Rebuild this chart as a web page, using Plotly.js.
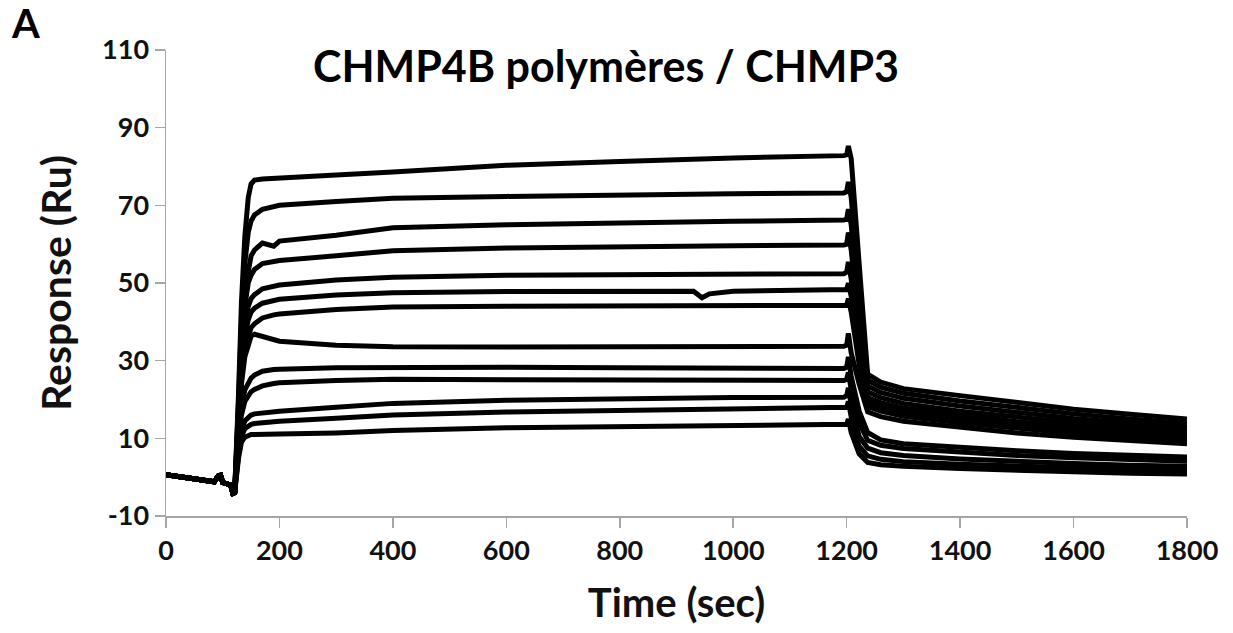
<!DOCTYPE html>
<html>
<head>
<meta charset="utf-8">
<script src="https://cdn.plot.ly/plotly-3.0.1.min.js"></script>
<style>html,body{margin:0;padding:0;background:#fff;}#chart{width:1233px;height:633px;}</style>
</head>
<body>
<div id="chart"></div>
<script>
// Baseline (shared by all curves), seconds / Ru
const tBase = [0, 30, 60, 85, 92, 96, 100, 108, 114, 118, 121];
const yBase = [0.6, 0.0, -0.6, -1.2, 0.3, 0.5, -1.4, -1.6, -2.0, -4.2, -4.0];

// Association phase times
const tAssoc = [128, 133, 139, 145, 150, 156, 170, 190, 200, 300, 400, 600, 800, 930, 945, 958, 1000, 1195];
// Dissociation phase times
const tDiss = [1200, 1203, 1208, 1222, 1237, 1260, 1300, 1400, 1500, 1600, 1700, 1800];

const assoc1  = [22, 45, 62, 72, 75.5, 76.5, 76.8, 77.0, 77.0, 77.8, 78.6, 80.3, 81.3, 81.9, 82.0, 82.0, 82.2, 82.8];
const assoc2  = [20, 40, 55, 63, 66, 67.5, 69, 69.8, 70, 71, 71.8, 72.3, 72.8, 72.9, 73, 73, 73, 73.2];
const assoc3  = [18, 36, 48, 54, 57, 58.5, 60.3, 59.5, 60.8, 62.3, 64.2, 65, 65.6, 65.8, 65.8, 65.8, 65.9, 66.2];
const assoc4  = [17, 33, 44, 50, 52, 53.5, 55, 55.6, 55.8, 57, 58.3, 59, 59.4, 59.5, 59.5, 59.5, 59.6, 59.8];
const assoc5  = [15, 29, 39, 44, 46, 47, 48.5, 49.3, 49.5, 50.8, 51.5, 52, 52.2, 52.3, 52.3, 52.3, 52.3, 52.4];
const assoc6  = [14, 27, 36, 40.5, 42.5, 43.5, 44.8, 45.5, 45.8, 46.9, 47.5, 47.8, 47.9, 47.9, 46.2, 47.2, 47.9, 48];
const assoc7  = [13, 25, 33, 36.5, 38.5, 39.5, 41, 41.8, 42, 43.2, 43.8, 44, 44, 44, 44, 44, 44, 44];
const assoc8  = [12, 24, 31, 34.5, 36.3, 36.8, 36.3, 35.3, 35.0, 34.0, 33.6, 33.5, 33.5, 33.5, 33.5, 33.5, 33.6, 33.7];
const assoc9  = [10, 18, 22.5, 24.5, 25.5, 26.3, 27.3, 27.7, 27.8, 28.2, 28.3, 28.3, 28.2, 28.1, 28.1, 28.1, 28.1, 28];
const assoc10 = [9, 16, 19.5, 21, 22, 22.6, 23.5, 24.1, 24.3, 24.9, 25.2, 25.1, 25, 25, 25, 25, 25, 24.9];
const assoc11 = [7, 12, 14.5, 15.5, 16, 16.3, 16.6, 16.9, 17, 18, 19, 19.8, 20.2, 20.4, 20.4, 20.4, 20.5, 20.6];
const assoc12 = [6, 10.5, 12.5, 13.2, 13.6, 13.8, 14, 14.3, 14.4, 15.2, 16, 16.8, 17.2, 17.4, 17.4, 17.4, 17.5, 17.7];
const assoc13 = [5, 9, 10.3, 10.8, 11, 11, 11, 11.1, 11.1, 11.4, 12, 12.7, 13, 13.1, 13.1, 13.1, 13.2, 13.3];

const diss1  = [83, 85.3, 82, 55, 26.5, 24.5, 22.8, 21, 19.2, 17.5, 16.2, 15.0];
const diss2  = [73.5, 76, 72, 48, 25, 23.2, 21.6, 19.6, 17.9, 16.3, 15.0, 13.9];
const diss3  = [66.5, 69, 65, 43, 23.5, 21.8, 20.3, 18.3, 16.6, 15.1, 13.9, 12.8];
const diss4  = [60, 63, 58.5, 39, 22, 20.5, 19.0, 17.0, 15.4, 14.0, 12.9, 11.9];
const diss5  = [52.8, 55.4, 51, 35, 20.5, 19.2, 17.8, 15.9, 14.3, 13.0, 11.9, 11.0];
const diss6  = [48.3, 50, 46.5, 32, 19.3, 18.0, 16.7, 14.9, 13.4, 12.1, 11.1, 10.2];
const diss7  = [44.3, 46, 42.5, 29, 18.2, 17.0, 15.7, 14.0, 12.5, 11.3, 10.3, 9.4];
const diss8  = [34, 37, 32, 24, 16.8, 15.6, 14.4, 12.8, 11.4, 10.3, 9.4, 8.6];
const diss9  = [28.3, 31, 26, 17, 11.5, 9.6, 8.6, 7.6, 6.8, 6.1, 5.6, 5.2];
const diss10 = [25.2, 27, 22.5, 14, 9.5, 8.2, 7.4, 6.4, 5.6, 5.0, 4.5, 4.1];
const diss11 = [21, 23, 18.5, 10.5, 7.5, 6.3, 5.6, 4.7, 4.0, 3.5, 3.1, 2.8];
const diss12 = [18, 19.5, 15.5, 8, 5.5, 4.6, 4.0, 3.3, 2.8, 2.3, 2.0, 1.8];
const diss13 = [13.6, 15, 11.5, 6, 3.8, 3.2, 2.8, 2.2, 1.7, 1.3, 1.0, 0.8];

const assocAll = [assoc1, assoc2, assoc3, assoc4, assoc5, assoc6, assoc7, assoc8, assoc9, assoc10, assoc11, assoc12, assoc13];
const dissAll = [diss1, diss2, diss3, diss4, diss5, diss6, diss7, diss8, diss9, diss10, diss11, diss12, diss13];

const xTicks = [0, 200, 400, 600, 800, 1000, 1200, 1400, 1600, 1800];
const yTicks = [-10, 10, 30, 50, 70, 90, 110];

const FONT = 'Lato, "Open Sans", sans-serif';

const traces = assocAll.map((a, i) => ({
  type: 'scatter',
  mode: 'lines',
  x: tBase.concat(tAssoc, tDiss),
  y: yBase.concat(a, dissAll[i]),
  line: {color: '#000', width: 5, shape: 'linear'},
  showlegend: false,
  hoverinfo: 'skip'
}));

const layout = {
  width: 1233,
  height: 633,
  margin: {l: 166, r: 46, t: 50, b: 117},
  paper_bgcolor: '#fff',
  plot_bgcolor: '#fff',
  showlegend: false,
  title: {
    text: 'CHMP4B polymères / CHMP3',
    font: {family: FONT, size: 43, color: '#000', weight: 'bold'},
    x: 606 / 1233, xanchor: 'center', xref: 'container',
    y: 1 - 67 / 633, yanchor: 'middle', yref: 'container'
  },
  xaxis: {
    range: [0, 1800],
    tickvals: xTicks,
    ticktext: xTicks.map(String),
    showgrid: false,
    zeroline: false,
    showline: true,
    linecolor: '#a6a6a6',
    linewidth: 1.5,
    ticks: 'outside',
    ticklen: 10,
    tickwidth: 1.5,
    tickcolor: '#a6a6a6',
    tickfont: {family: FONT, size: 27, color: '#111', weight: 'bold'},
    title: {text: 'Time (sec)', font: {family: FONT, size: 40, color: '#111', weight: 'bold'}, standoff: 24}
  },
  yaxis: {
    range: [-10, 110],
    tickvals: yTicks,
    ticktext: yTicks.map(String),
    showgrid: false,
    zeroline: false,
    showline: true,
    linecolor: '#a6a6a6',
    linewidth: 1.5,
    ticks: 'outside',
    ticklen: 10,
    tickwidth: 1.5,
    tickcolor: '#a6a6a6',
    tickfont: {family: FONT, size: 27, color: '#111', weight: 'bold'},
    title: {text: 'Response (Ru)', font: {family: FONT, size: 41, color: '#111', weight: 'bold'}, standoff: 18}
  },
  annotations: [{
    text: 'A',
    xref: 'paper', yref: 'paper',
    x: (25 - 166) / 1021, y: (516 - 23) / 466,
    xanchor: 'center', yanchor: 'middle',
    showarrow: false,
    font: {family: FONT, size: 40, color: '#000', weight: 'bold'}
  }]
};

Plotly.newPlot('chart', traces, layout, {staticPlot: true, displayModeBar: false});
</script>
</body>
</html>
